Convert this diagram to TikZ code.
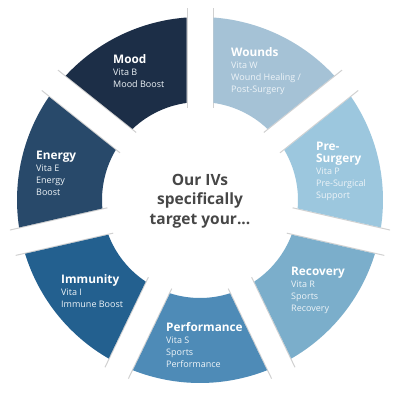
\documentclass[tikz,border=0pt]{standalone}
\usepackage{fontspec}
\setmainfont{Open Sans}
\usetikzlibrary{calc}
\definecolor{cMood}{HTML}{1C2E47}
\definecolor{cEnergy}{HTML}{28496A}
\definecolor{cImmunity}{HTML}{23608F}
\definecolor{cPerf}{HTML}{4E8BB7}
\definecolor{cRecov}{HTML}{7BAECB}
\definecolor{cPre}{HTML}{9CC7DE}
\definecolor{cWounds}{HTML}{A5C2D6}
\definecolor{cCenter}{HTML}{474747}
\definecolor{cSub}{HTML}{EEF4F8}
\newcommand{\ttl}[1]{{\fontsize{11.8}{12.5}\selectfont\bfseries\color{white}#1}}
\newcommand{\Rout}{183}
\newcommand{\Rin}{98}
\newcommand{\hw}{13.5}
\newcommand{\ringseg}[3]{%
  \pgfmathsetmacro\dO{asin(\hw/\Rout)}%
  \pgfmathsetmacro\dI{asin(\hw/\Rin)}%
  \pgfmathsetmacro\sA{#1-\dO}%
  \pgfmathsetmacro\eA{#2+\dO}%
  \pgfmathsetmacro\sB{#2+\dI}%
  \pgfmathsetmacro\eB{#1-\dI}%
  \fill[#3] ($(ctr)+(\sA:\Rout pt)$) arc[start angle=\sA, end angle=\eA, radius=\Rout pt]
    -- ($(ctr)+(\sB:\Rin pt)$) arc[start angle=\sB, end angle=\eB, radius=\Rin pt] -- cycle;
}
\newcommand{\gapshade}[1]{%
  \pgfmathsetmacro\gp{#1+90}%
  \pgfmathsetmacro\gm{#1-90}%
  \pgfmathsetmacro\ra{\Rin-6}%
  \pgfmathsetmacro\rb{\Rout+9}%
  \pgfmathsetmacro\ho{\hw-0.5}%
  \draw[edgeshade] ($(ctr)+(#1:\ra pt)+(\gp:\ho pt)$) -- ($(ctr)+(#1:\rb pt)+(\gp:\ho pt)$);
  \draw[edgeshade] ($(ctr)+(#1:\ra pt)+(\gm:\ho pt)$) -- ($(ctr)+(#1:\rb pt)+(\gm:\ho pt)$);
}
\begin{document}
\begin{tikzpicture}[x=1pt,y=1pt,
  edgeshade/.style={draw=black!18, line width=1pt},
  lbl/.style={anchor=north west, inner sep=0pt, align=left, text=cSub, font=\fontsize{9}{12}\selectfont},
  centertext/.style={align=center, inner sep=0pt, text=cCenter, font=\fontsize{15.5}{19.5}\selectfont\bfseries}]
\useasboundingbox[fill=white] (0,0) rectangle (400,400);
\coordinate (ctr) at (200,200);
% edge shadows
\foreach \g in {90,38.571,-12.857,-64.286,-115.714,-167.143,141.429} {\gapshade{\g}}
% segments
\ringseg{90}{38.571}{cWounds}
\ringseg{38.571}{-12.857}{cPre}
\ringseg{-12.857}{-64.286}{cRecov}
\ringseg{-64.286}{-115.714}{cPerf}
\ringseg{-115.714}{-167.143}{cImmunity}
\ringseg{-167.143}{-218.571}{cEnergy}
\ringseg{-218.571}{-270}{cMood}
% labels
\node[lbl] (mood) at (113,346) {\ttl{Mood}\\Vita B\\Mood Boost};
\node[lbl] (wounds) at (231,353) {\ttl{Wounds}\\Vita W\\Wound Healing /\\Post-Surgery};
\node[lbl] (pre) at (316,258) {\ttl{Pre-}\\\ttl{Surgery}\\Vita P\\Pre-Surgical\\Support};
\node[lbl] (recov) at (291,133) {\ttl{Recovery}\\Vita R\\Sports\\Recovery};
\node[lbl] (perf) at (166,78) {\ttl{Performance}\\Vita S\\Sports\\Performance};
\node[lbl] (immun) at (61,126) {\ttl{Immunity}\\Vita I\\Immune Boost};
\node[lbl] (energy) at (36,249) {\ttl{Energy}\\Vita E\\Energy\\Boost};
\node[centertext] (center) at (200,199) {Our IVs\\specifically\\target your...};
\end{tikzpicture}
\end{document}
